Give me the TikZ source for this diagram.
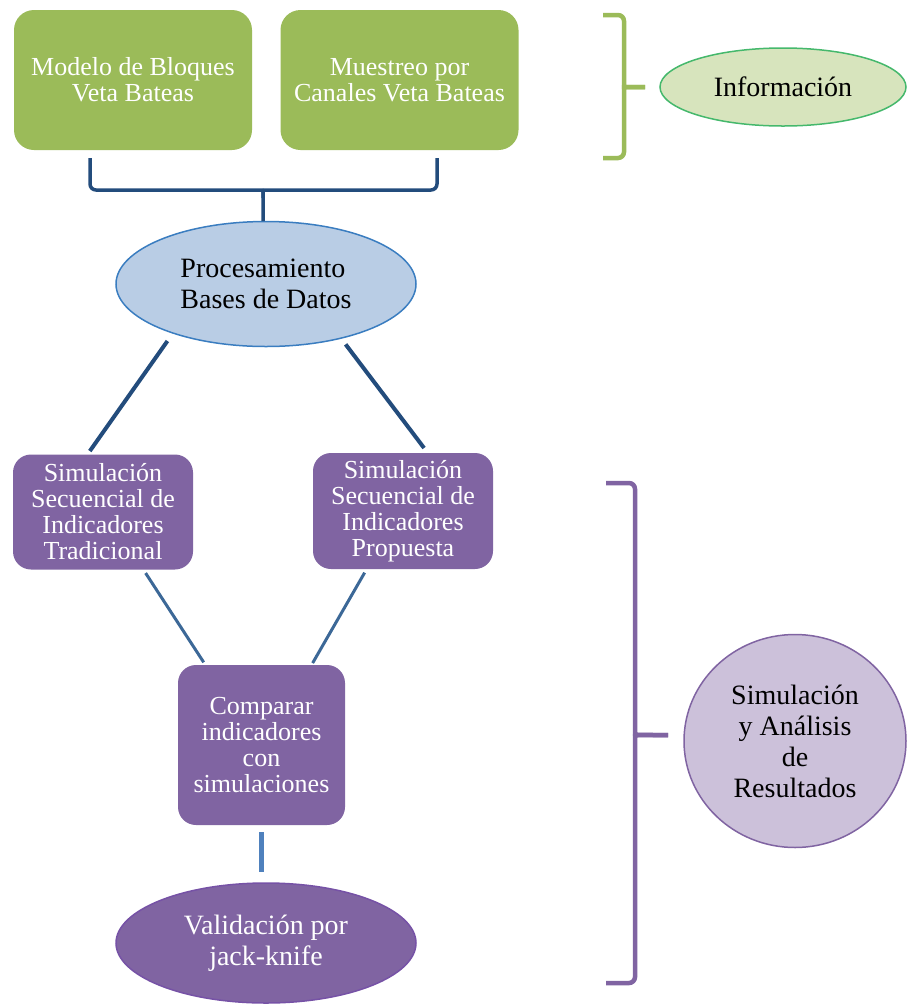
\documentclass[tikz,border=0pt]{standalone}
\usepackage{fontspec}
\setmainfont{Liberation Serif}
\usepackage{xcolor}
\usetikzlibrary{shapes.geometric}

\definecolor{leafgreen}{HTML}{9BBB59}
\definecolor{infofill}{HTML}{D7E4BD}
\definecolor{infoline}{HTML}{45B86C}
\definecolor{skyfill}{HTML}{B9CDE5}
\definecolor{skyline}{HTML}{3A7DC0}
\definecolor{navyline}{HTML}{234C7C}
\definecolor{steelline}{HTML}{3C6897}
\definecolor{paleline}{HTML}{4F81BD}
\definecolor{plum}{HTML}{8064A2}
\definecolor{plumline}{HTML}{7652A6}
\definecolor{lilac}{HTML}{CCC1DA}

\begin{document}
\begin{tikzpicture}[x=1pt, y=-1pt,
    boxtext/.style={font=\fontsize{26}{26}\selectfont, align=center, inner sep=0pt},
    ovaltext/.style={font=\fontsize{28}{31}\selectfont, align=center, inner sep=0pt},
    greenbox/.style={boxtext, rectangle, rounded corners=20pt, fill=leafgreen, text=white,
        minimum width=238pt, minimum height=140pt},
    purplebox/.style={boxtext, rectangle, rounded corners=18pt, fill=plum, text=white,
        minimum width=180pt, minimum height=115pt},
    brace/.style={line width=4.5pt, rounded corners=6pt},
    link/.style={line width=4pt, navyline}]
    \useasboundingbox (0, 0) rectangle (906, 1005);

    \node [greenbox] (modelo) at (133, 80) {Modelo de Bloques\\Veta Bateas};
    \node [greenbox] (muestreo) at (399.5, 80) {Muestreo por\\Canales Veta Bateas};
    \node [ovaltext, ellipse, draw=infoline, fill=infofill, line width=1.5pt, minimum width=246pt, minimum height=78pt] (informacion) at (783, 87) {Información};
    \node [ovaltext, ellipse, draw=skyline, fill=skyfill, line width=1.5pt, minimum width=300pt, minimum height=125pt, align=left] (procesamiento) at (266, 284) {Procesamiento\\Bases de Datos};
    \node [purplebox] (simtrad) at (103, 512) {Simulación\\Secuencial de\\Indicadores\\Tradicional};
    \node [purplebox, minimum height=116pt] (simprop) at (403, 511) {Simulación\\Secuencial de\\Indicadores\\Propuesta};
    \node [purplebox, minimum width=167pt, minimum height=160pt] (comparar) at (261.5, 745) {Comparar\\indicadores\\con\\simulaciones};
    \node [ovaltext, ellipse, draw=plumline, fill=plum, text=white, line width=1.5pt, minimum width=300pt, minimum height=120pt] (validacion) at (266, 943) {Validación por\\jack-knife};
    \node [ovaltext, ellipse, draw=plum, fill=lilac, line width=1.5pt, minimum width=222pt, minimum height=213pt] (simanalisis) at (795, 741) {Simulación\\y Análisis\\de\\Resultados};

    \draw [brace, leafgreen] (603, 15) -- (624, 15) -- (624, 81) .. controls (624, 87) and (628, 87) .. (645, 87);
    \draw [brace, leafgreen] (603, 158) -- (624, 158) -- (624, 93) .. controls (624, 87) and (628, 87) .. (645, 87);
    \draw [brace, navyline, line width=3.5pt] (90, 158) -- (90, 190) -- (256, 190) .. controls (263, 190) and (263, 193) .. (263, 198) -- (263, 221);
    \draw [brace, navyline, line width=3.5pt] (437, 158) -- (437, 190) -- (270, 190) .. controls (263, 190) and (263, 193) .. (263, 198);
    \draw [brace, plum] (606, 483) -- (635, 483) -- (635, 728) .. controls (635, 735) and (640, 735) .. (668, 735);
    \draw [brace, plum] (606, 983) -- (635, 983) -- (635, 742) .. controls (635, 735) and (640, 735) .. (668, 735);

    \draw [link, shorten <=9pt, shorten >=4pt] (procesamiento.208) -- (simtrad.105);
    \draw [link, shorten <=7pt, shorten >=6pt] (procesamiento.324) -- (simprop.67);
    \draw [link, steelline, line width=3pt, shorten <=4pt, shorten >=3pt] (simtrad.305) -- (comparar.125);
    \draw [link, steelline, line width=3pt, shorten <=4pt, shorten >=2pt] (simprop.238) -- (comparar.58);
    \draw [link, paleline, line width=5pt, shorten <=7pt, shorten >=10pt] (comparar.south) -- (comparar.south |- validacion.north);
\end{tikzpicture}
\end{document}
